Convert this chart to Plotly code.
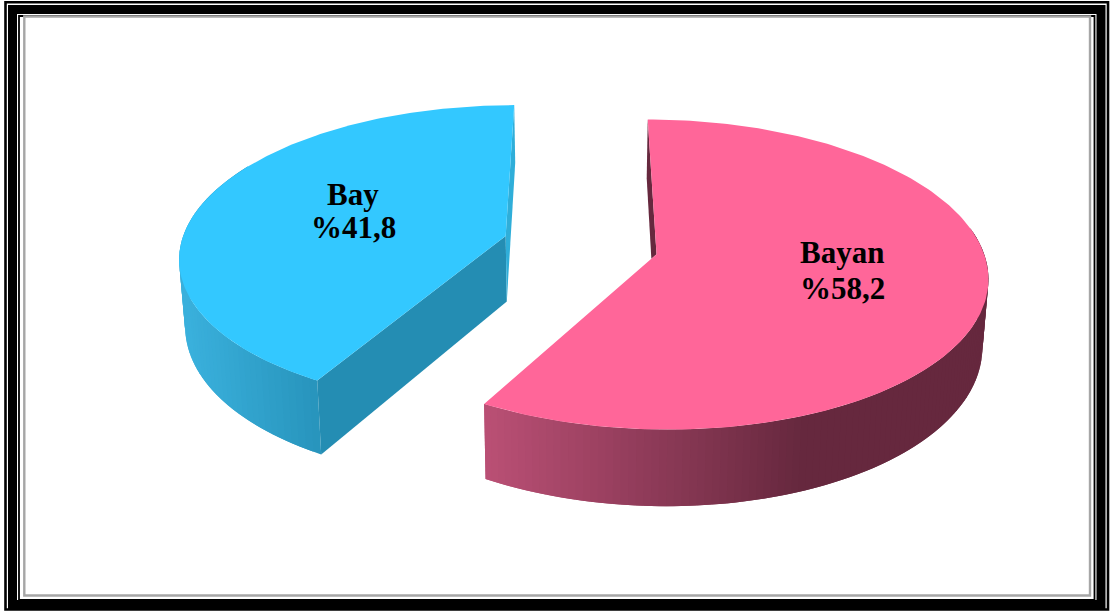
import numpy as np
import plotly.graph_objects as go

# Chart data
categories = ["Bay", "Bayan"]
values = [41.8, 58.2]
top_colors = ["#33C8FF", "#FF6699"]
label_centres = [(353, 194, 227), (842, 252, 288)]

# Projection of the exploded pie onto the page
WIDTH, HEIGHT = 1113, 611
CX, CY = 580.5, 245.0
RX, RY = 325.0, 150.0
PERSPECTIVE = 0.13
EXPLODE = 0.24
DEPTH = 66.0
FLOOR_SHRINK = 0.985


def project(u, v):
    s = 1.0 / (1.0 + PERSPECTIVE * v)
    return CX + RX * u * s, CY - RY * v * s, s


def floor(x, y, s):
    return CX + (x - CX) * FLOOR_SHRINK, y + DEPTH * s


def rim(start, end, mid, n=200):
    """Top-face rim between two clockwise angles (degrees from 12 o'clock)."""
    a = np.radians(np.linspace(start, end, n))
    off = np.radians(mid)
    u = np.sin(a) + EXPLODE * np.sin(off)
    v = np.cos(a) + EXPLODE * np.cos(off)
    return project(u, v)


def apex(mid):
    off = np.radians(mid)
    return project(EXPLODE * np.sin(off), EXPLODE * np.cos(off))


def blend(c0, c1, t):
    t = min(max(t, 0.0), 1.0)
    rgb = [round(a + (b - a) * t) for a, b in zip(c0, c1)]
    return f"rgb({rgb[0]},{rgb[1]},{rgb[2]})"


def poly(fig, xs, ys, color):
    fig.add_trace(go.Scatter(
        x=list(xs), y=list(ys), mode="lines", fill="toself", fillcolor=color,
        line=dict(width=0), hoverinfo="skip", showlegend=False,
    ))


def outer_wall(fig, start, end, mid, c0, c1, x0, x1, strips=110):
    # Later strips overlap the previous one so no seams show between them
    edges = np.linspace(start, end, strips + 1)
    for i in range(strips):
        x, y, s = rim(edges[i], edges[min(i + 2, strips)], mid, 8)
        fx, fy = floor(x, y, s)
        t = (x.mean() - x0) / (x1 - x0)
        poly(fig, np.r_[x, fx[::-1]], np.r_[y, fy[::-1]], blend(c0, c1, t))


fig = go.Figure()

total = sum(values)
pink_sweep = 360.0 * values[1] / total
pink_mid = pink_sweep / 2.0
blue_start = pink_sweep
blue_mid = pink_sweep + (360.0 - pink_sweep) / 2.0

# Blue slice: curved side, cut face and back face
outer_wall(fig, blue_start, 300, blue_mid, (39, 148, 188), (58, 176, 220), 313, 185, 60)
bx, by, bs = rim(blue_start, 360, blue_mid)
ax, ay, a_s = apex(blue_mid)
afx, afy = floor(ax, ay, a_s)
ffx, ffy = floor(bx[0], by[0], bs[0])
poly(fig, [ax, bx[0], ffx, afx], [ay, by[0], ffy, afy], "#248DB3")
tfx, tfy = floor(bx[-1], by[-1], bs[-1])
poly(fig, [ax, bx[-1], tfx, afx], [ay, by[-1], tfy, afy], "#2FAED9")
poly(fig, np.r_[ax, bx, ax], np.r_[ay, by, ay], top_colors[0])

# Pink slice: curved side, sliver of the back face, top face
outer_wall(fig, 80, pink_sweep, pink_mid, (102, 40, 62), (185, 79, 116), 800, 487)
px, py, ps = rim(0, pink_sweep, pink_mid)
qx, qy, q_s = apex(pink_mid)
sfx, sfy = floor(px[0], py[0], ps[0])
cut_x = qx + 0.03 * (px[-1] - qx)
cut_y = qy + 0.03 * (py[-1] - qy)
poly(fig, [qx, px[0], sfx, cut_x], [qy, py[0], sfy, cut_y], "#66283E")
poly(fig, np.r_[qx, px, qx], np.r_[qy, py, qy], top_colors[1])

# Slice labels
for name, val, (lx, y1, y2) in zip(categories, values, label_centres):
    pct = "%" + f"{val:.1f}".replace(".", ",")
    for txt, ly in ((name, y1), (pct, y2)):
        fig.add_annotation(
            x=lx, y=ly, text=f"<b>{txt}</b>", showarrow=False,
            font=dict(family="Liberation Serif", size=31, color="#000000"),
        )

# Page frame: outer rule, heavy rule, thin rule, grey inner rule
frame = [
    (5.5, 2.2, 1108, 609.5, 2.6, "#000000"),
    (12.5, 9.5, 1101, 604.5, 9, "#000000"),
    (19, 16, 1094.5, 600, 1.8, "#000000"),
    (24.3, 16.5, 1090, 595.5, 2.4, "#A6A6A6"),
]
shapes = [
    dict(type="rect", xref="x", yref="y", x0=x0, y0=y0, x1=x1, y1=y1,
         line=dict(color=c, width=w), fillcolor="rgba(0,0,0,0)", layer="above")
    for x0, y0, x1, y1, w, c in frame
]

fig.update_layout(
    width=WIDTH, height=HEIGHT, autosize=False,
    margin=dict(l=0, r=0, t=0, b=0),
    paper_bgcolor="#FFFFFF", plot_bgcolor="#FFFFFF",
    showlegend=False, shapes=shapes,
    xaxis=dict(range=[0, WIDTH], visible=False, fixedrange=True),
    yaxis=dict(range=[HEIGHT, 0], visible=False, fixedrange=True),
)

fig.write_html("out.html", config=dict(displayModeBar=False))
